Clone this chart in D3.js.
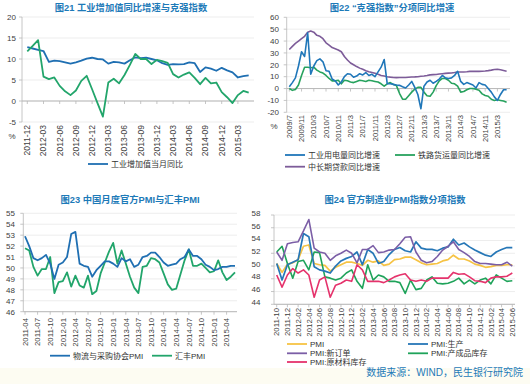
<!DOCTYPE html>
<html><head><meta charset="utf-8">
<script src="https://cdn.jsdelivr.net/npm/d3@7"></script>
<style>
body{margin:0;background:#fff;}
svg{display:block;font-family:"Liberation Sans","Noto Sans CJK SC",sans-serif;}
</style></head><body>
<svg id="c" width="530" height="384"></svg>
<script>
// ---------- Panel 1: 2011-12 .. 2015-05 ----------
const p1Start = [2011, 12], p1Count = 42;
const p1IVA = [12.8,12.5,12.2,11.9,9.3,9.6,9.5,9.2,8.9,9.2,9.6,10.1,10.3,10.0,9.9,8.9,9.3,9.2,8.9,9.7,10.4,10.2,10.3,10.0,9.7,9.0,8.6,8.8,8.7,8.8,9.2,9.0,6.9,8.0,7.7,7.2,7.9,7.3,6.8,5.6,5.9,6.1];
const p1Keqiang = [11.8,13.1,14.5,5.8,5.2,5.6,3.6,2.3,1.4,2.5,4.8,6.0,2.8,-0.5,-3.7,4.4,5.3,4.2,6.2,8.6,11.2,10.0,10.0,8.8,9.8,9.5,9.1,6.4,5.6,6.3,6.8,5.5,4.0,5.5,4.2,4.4,2.1,0.9,-0.5,1.4,2.4,2.0];
const p1XTicks = ["2011-12","2012-03","2012-06","2012-09","2012-12","2013-03","2013-06","2013-09","2013-12","2014-03","2014-06","2014-09","2014-12","2015-03"];
const p1YTicks = [-5,0,5,10,15,20];

// ---------- Panel 2: 2009/7 .. 2015/6 ----------
const p2Start = [2009, 7], p2Count = 72;
const p2Power = [1.5,5,9,19,31,27,47,12,19,23.5,25,22.5,15,14.5,8,6.5,3,5.5,10,12.5,12,9.5,10.5,12.5,11.5,13.5,11,12,10,14,18,24.5,4,4,3.5,3,2.7,1.5,
  0.5,3,6,1,-5,-17,2,5.5,7,4.5,6,8,11,9,8.5,9,11,14.5,6,3.5,5,4,3,0.5,5,3.5,3,0,-3,-7,-10,-5,-1,-1];
const p2Rail = [0,-1.5,-0.8,3,11,18,18,17.5,18,15.5,14,13,11,8.5,6.5,6.5,7,4,7,6.5,5.5,5,6,7,6.5,6,7,6.5,6,5.5,4,2,4,5,3.5,2.5,
  -4,-9,-9,-6,-3,-0.5,1,1,-3,-6,-6.5,-3,2.5,6.5,8.5,8.5,7,4.5,4,2,-3,-2.5,-1,0,0,-0.5,-1.5,-4.5,-5.8,-6.5,-9,-10,-9.5,-10,-10.5,-11.5];
const p2Loan = [32.9,35.5,38,40,42,44,47.5,48.4,47.5,44.8,44,42,38.5,36.6,34.5,33.5,32.5,31,27,24,21.5,20,18.5,17.2,16.2,15,14.2,13.5,12.8,12,11,10.5,10,9.6,9.3,9.2,9.3,9.3,
  9.3,9.5,9.7,9.8,10,10.3,10.6,11,11.5,11.7,11.8,12.2,12.5,12.8,13,13.1,13.5,14,14,14,14.2,14.5,14.5,14.5,14.5,14.6,14.8,15.1,15.5,16,16.2,15.8,15.2,14.6];
const p2XTicks = ["2009/7","2009/11","2010/3","2010/7","2010/11","2011/3","2011/7","2011/11","2012/3","2012/7","2012/11","2013/3","2013/7","2013/11","2014/3","2014/7","2014/11","2015/3"];
const p2YTicks = [-20,-10,0,10,20,30,40,50,60];

// ---------- Panel 3: 2011-04 .. 2015-06 ----------
const p3Start = [2011, 4], p3Count = 51;
const p3Official = [52.9,52.0,50.9,50.7,50.9,51.2,50.4,49.0,50.3,50.5,51.0,53.1,53.3,50.4,50.2,50.1,49.2,49.8,50.2,50.6,50.6,50.4,50.1,50.9,50.6,50.8,50.1,50.3,51.0,51.1,51.4,51.4,51.0,50.5,50.2,50.3,50.4,50.8,51.0,51.7,51.1,51.1,50.8,50.3,50.1,49.8,49.9,50.1,50.1,50.2,50.2];
const p3HSBC = [51.8,51.6,50.1,49.3,49.9,49.9,51.0,47.7,48.7,48.8,49.6,48.3,49.3,48.4,48.2,49.3,47.6,47.9,49.5,50.5,51.5,52.3,50.4,51.6,50.4,49.2,48.2,47.7,50.1,50.2,50.9,50.8,50.5,49.5,48.5,48.0,48.1,49.4,50.7,51.7,50.2,50.2,50.4,50.0,49.6,49.7,50.7,49.6,48.9,49.2,49.6];
const p3XTicks = ["2011-04","2011-07","2011-10","2012-01","2012-04","2012-07","2012-10","2013-01","2013-04","2013-07","2013-10","2014-01","2014-04","2014-07","2014-10","2015-01","2015-04"];
const p3YTicks = [46,47,48,49,50,51,52,53,54,55];
const p3Y2Ticks = [44,46,48,50,52,54,56,58];

// ---------- Panel 4: 2011-10 .. 2015-06 ----------
const p4Start = [2011, 10], p4Count = 45;
const p4PMI = [50.4,49.0,50.3,50.5,51.0,53.1,53.3,50.4,50.2,50.1,49.2,49.8,50.2,50.6,50.6,50.4,50.1,50.9,50.6,50.8,50.1,50.3,51.0,51.1,51.4,51.4,51.0,50.5,50.2,50.3,50.4,50.8,51.0,51.7,51.1,51.1,50.8,50.3,50.1,49.8,49.9,50.1,50.1,50.2,50.2];
const p4Prod = [50.4,47.8,50.2,50.6,51,55.1,54.6,49.9,49.4,49.2,48.9,50,50.8,51.2,51.5,52.2,50.2,52.6,52,50.4,50.7,51.8,52.6,52.9,52.4,52.2,53.8,52.8,52.6,52.6,52.4,52.8,53,54.2,53.3,53.6,53,52.5,52.1,51.7,51.5,52.2,52.6,52.9,52.9];
const p4NewOrd = [52.2,50.9,53.5,53.7,53.8,55.5,57.3,52.8,52.2,52,50.9,51.6,52,52.5,52,50.5,52.6,52.6,53.2,52.1,52.2,52.5,52.6,53.5,54.5,54.6,52.2,50.9,50.5,50.7,51.5,52.5,53.1,53.8,52.6,52.1,51.5,50.7,50.4,50.4,50.3,50.2,50.2,50.6,50];
const p4FinInv = [52.2,53.1,50.4,48.1,50.7,50.9,49.4,52.2,52.1,48.3,48.1,47.8,48.1,48.9,49.4,47.6,46.5,50.2,47.8,48.6,48.3,47.6,47.6,47.4,45.7,47.8,46.3,46.5,47.8,48.3,47.3,47.2,47.3,47.6,48.1,47.2,47.8,47.2,47.8,48.1,47.2,48.6,48.1,47.6,47.7];
const p4RawInv = [48.6,46.7,48.6,49.6,48.9,49.4,48.6,45.1,47.8,48.3,45.1,47,47.3,47.8,47.6,50.2,49.4,47.6,47.6,47.6,47.4,47.8,48.3,48.6,48.8,47.8,47.6,47.8,47.6,48.1,48.1,48.1,48.1,49,48.7,48.8,48.3,47.7,47.6,47.4,48.1,48.3,48.3,48.4,48.9];
const p4XTicks = ["2011-10","2011-12","2012-02","2012-04","2012-06","2012-08","2012-10","2012-12","2013-02","2013-04","2013-06","2013-08","2013-10","2013-12","2014-02","2014-04","2014-06","2014-08","2014-10","2014-12","2015-02","2015-04","2015-06"];
const p4YTicks = [44,46,48,50,52,54,56,58];

// ---------- helpers ----------
function monthLabels(start, n, sep, pad) {
  const out = []; let [y, m] = start;
  for (let i = 0; i < n; i++) {
    out.push(y + sep + (pad ? String(m).padStart(2, "0") : String(m)));
    m++; if (m > 12) { m = 1; y++; }
  }
  return out;
}
const svg = d3.select("#c");
const TITLE = "#1d7ab8", TXT = "#404040", GRID = "#e9e9e9", AXIS = "#b8b8b8";

function title(x, y, t) {
  svg.append("text").attr("x", x).attr("y", y).attr("text-anchor", "middle")
    .attr("font-size", 9.3).attr("font-weight", "bold").attr("fill", TITLE).text(t);
}
function legendItem(x, y, color, t) {
  svg.append("line").attr("x1", x).attr("x2", x + 20).attr("y1", y).attr("y2", y)
    .attr("stroke", color).attr("stroke-width", 1.8);
  svg.append("text").attr("x", x + 23).attr("y", y).attr("dy", "0.35em")
    .attr("font-size", 8).attr("fill", "#333").text(t);
}

function panel(cfg) {
  const cats = cfg.cats;
  const x = d3.scalePoint().domain(cats).range(cfg.xr);
  const y = d3.scaleLinear().domain(cfg.yd).range(cfg.yr);
  const g = svg.append("g");
  // gridlines
  g.selectAll(null).data(cfg.yTicks).join("line")
    .attr("x1", cfg.gx[0]).attr("x2", cfg.gx[1])
    .attr("y1", d => y(d)).attr("y2", d => y(d))
    .attr("stroke", GRID).attr("stroke-width", 0.8);
  // y axis line
  g.append("line").attr("x1", cfg.gx[0]).attr("x2", cfg.gx[0])
    .attr("y1", cfg.yr[0]).attr("y2", cfg.yr[1]).attr("stroke", AXIS).attr("stroke-width", 0.8);
  g.selectAll(null).data(cfg.yTicks).join("line")
    .attr("x1", cfg.gx[0] - 3).attr("x2", cfg.gx[0])
    .attr("y1", d => y(d)).attr("y2", d => y(d)).attr("stroke", AXIS).attr("stroke-width", 0.8);
  // y labels
  if (cfg.yLabels) {
    g.selectAll(null).data(cfg.yTicks).join("text")
      .attr("x", cfg.ylx).attr("y", d => y(d)).attr("dy", "0.35em")
      .attr("text-anchor", "end").attr("font-size", 8).attr("fill", TXT).text(d => d);
  }
  // x axis line
  const ay = y(cfg.axisAt);
  g.append("line").attr("x1", cfg.gx[0]).attr("x2", cfg.gx[1]).attr("y1", ay).attr("y2", ay)
    .attr("stroke", AXIS).attr("stroke-width", 1);
  g.selectAll(null).data(cfg.xTicks).join("line")
    .attr("x1", d => x(d)).attr("x2", d => x(d)).attr("y1", ay).attr("y2", ay + 3)
    .attr("stroke", AXIS).attr("stroke-width", 0.8);
  // x labels (rotated)
  g.selectAll(null).data(cfg.xTicks).join("text")
    .attr("transform", d => `translate(${x(d)},${cfg.xly}) rotate(-90)`)
    .attr("text-anchor", "end").attr("dy", "0.35em")
    .attr("font-size", cfg.xfs).attr("fill", TXT).text(d => d);
  // series
  const line = d3.line().x((d, i) => x(cats[i])).y(d => y(d));
  cfg.series.forEach(s => {
    g.append("path").datum(s.values).attr("d", line).attr("fill", "none")
      .attr("stroke", s.color).attr("stroke-width", s.w || 1.7)
      .attr("stroke-linejoin", "round");
  });
  return {x, y};
}

// bottom tint band
svg.append("rect").attr("x", 0).attr("y", 368).attr("width", 530).attr("height", 16).attr("fill", "#fdfcf2");

// ---------- Panel 1 ----------
title(131, 11, "图21 工业增加值同比增速与克强指数");
panel({
  cats: monthLabels(p1Start, p1Count, "-", true),
  xr: [27.3, 248.7], yd: [-5, 20], yr: [122, 17], gx: [22, 254],
  yTicks: p1YTicks, yLabels: true, ylx: 16, axisAt: 0,
  xTicks: p1XTicks, xly: 125, xfs: 8.5,
  series: [
    {values: p1IVA, color: "#1f6fb2", w: 1.8},
    {values: p1Keqiang, color: "#22a56b", w: 1.8}
  ]
});
svg.append("text").attr("x", 12).attr("y", 136).attr("text-anchor", "middle").attr("dy", "0.35em")
  .attr("font-size", 8).attr("fill", TXT).text("%");
legendItem(88, 164, "#1f6fb2", "工业增加值当月同比");

// ---------- Panel 2 ----------
title(392, 11, "图22 “克强指数”分项同比增速");
panel({
  cats: monthLabels(p2Start, p2Count, "/", false),
  xr: [289.3, 506.6], yd: [-20, 60], yr: [112.3, 17.3], gx: [286.7, 510],
  yTicks: p2YTicks, yLabels: true, ylx: 279, axisAt: 0,
  xTicks: p2XTicks, xly: 115, xfs: 7.6,
  series: [
    {values: p2Loan, color: "#7d5c99", w: 1.6},
    {values: p2Rail, color: "#27a25e", w: 1.6},
    {values: p2Power, color: "#2077b9", w: 1.6}
  ]
});
svg.append("text").attr("x", 274).attr("y", 126).attr("text-anchor", "middle").attr("dy", "0.35em")
  .attr("font-size", 8).attr("fill", TXT).text("%");
legendItem(285, 155, "#2077b9", "工业用电量同比增速");
legendItem(395, 155, "#27a25e", "铁路货运量同比增速");
legendItem(285, 166.7, "#7d5c99", "中长期贷款同比增速");

// ---------- Panel 3 ----------
title(130, 203, "图23 中国月度官方PMI与汇丰PMI");
panel({
  cats: monthLabels(p3Start, p3Count, "-", true),
  xr: [25, 235], yd: [46, 55], yr: [311.7, 213.3], gx: [23.3, 237],
  yTicks: p3YTicks, yLabels: true, ylx: 15, axisAt: 46,
  xTicks: p3XTicks, xly: 318, xfs: 7.8,
  series: [
    {values: p3HSBC, color: "#22a56b", w: 1.8},
    {values: p3Official, color: "#1f6fb2", w: 1.8}
  ]
});
const y2 = d3.scaleLinear().domain([42.45, 58]).range([311.7, 213.3]);
svg.append("g").selectAll(null).data(p3Y2Ticks).join("text")
  .attr("x", 251.5).attr("y", d => y2(d)).attr("dy", "0.35em")
  .attr("font-size", 8).attr("fill", TXT).text(d => d);
legendItem(50, 355.7, "#1f6fb2", "物流与采购协会PMI");
legendItem(152, 355.7, "#22a56b", "汇丰PMI");

// ---------- Panel 4 ----------
title(395, 203, "图24 官方制造业PMI指数分项指数");
panel({
  cats: monthLabels(p4Start, p4Count, "-", true),
  xr: [276.7, 512.3], yd: [44, 58], yr: [304.3, 215], gx: [274, 515],
  yTicks: p4YTicks, yLabels: false, axisAt: 44,
  xTicks: p4XTicks, xly: 308, xfs: 7.8,
  series: [
    {values: p4PMI, color: "#f6c344", w: 1.7},
    {values: p4FinInv, color: "#1fa35a", w: 1.6},
    {values: p4RawInv, color: "#e5336c", w: 1.6},
    {values: p4Prod, color: "#2677b7", w: 1.7},
    {values: p4NewOrd, color: "#7b5ea6", w: 1.6}
  ]
});
legendItem(287, 344, "#f6c344", "PMI");
legendItem(408, 344, "#2677b7", "PMI:生产");
legendItem(287, 353.3, "#7b5ea6", "PMI:新订单");
legendItem(408, 353.3, "#1fa35a", "PMI:产成品库存");
legendItem(287, 362, "#e5336c", "PMI:原材料库存");

svg.append("text").attr("x", 523).attr("y", 376).attr("text-anchor", "end")
  .attr("font-size", 10).attr("fill", TITLE).text("数据来源：WIND，民生银行研究院");
</script>
</body></html>
